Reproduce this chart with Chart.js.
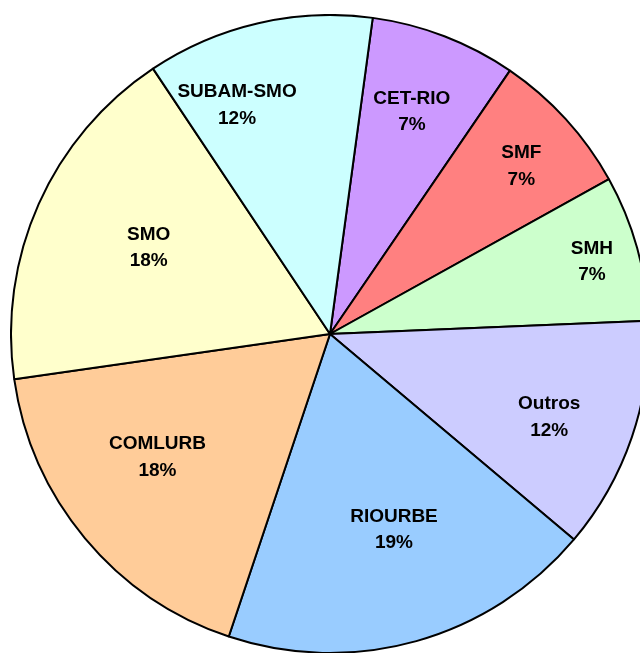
<!DOCTYPE html>
<html>
<head>
<meta charset="utf-8">
<script src="https://cdn.jsdelivr.net/npm/chart.js@4/dist/chart.umd.min.js"></script>
<style>
  html, body { margin: 0; padding: 0; background: #ffffff; overflow: hidden; width: 640px; height: 653px; }
  #wrap { position: absolute; left: 10px; top: 14px; width: 640px; height: 640px; }
</style>
</head>
<body>
<div id="wrap"><canvas id="c"></canvas></div>
<script>
// Data (clockwise, starting just right of 12 o'clock)
const categories = ["CET-RIO", "SMF", "SMH", "Outros", "RIOURBE", "COMLURB", "SMO", "SUBAM-SMO"];
const shares = [7.4, 7.4, 7.4, 11.8, 19.0, 17.6, 17.9, 11.5];
const sliceColors = ["#CC99FF", "#FF8080", "#CCFFCC", "#CCCCFF", "#99CCFF", "#FFCC99", "#FFFFCC", "#CCFFFF"];

// Label placement: radial fraction and angular offset (degrees) per slice
const labelRadius = [0.746, 0.80, 0.853, 0.734, 0.642, 0.662, 0.631, 0.778];
const labelAngleShift = [-0.9, 0.9, 0, 1.7, -2.5, 4.6, 1.7, -9.0];

const total = shares.reduce((a, b) => a + b, 0);

const sliceLabels = {
  id: 'sliceLabels',
  afterDatasetsDraw(chart) {
    const ctx = chart.ctx;
    const meta = chart.getDatasetMeta(0);
    ctx.save();
    ctx.fillStyle = '#000000';
    ctx.font = 'bold 19px "Liberation Sans", Arial, sans-serif';
    ctx.textAlign = 'center';
    ctx.textBaseline = 'middle';
    meta.data.forEach((arc, i) => {
      const p = arc.getProps(['x', 'y', 'startAngle', 'endAngle', 'outerRadius'], true);
      const mid = (p.startAngle + p.endAngle) / 2 + labelAngleShift[i] * Math.PI / 180;
      const r = p.outerRadius * labelRadius[i];
      const x = p.x + Math.cos(mid) * r;
      const y = p.y + Math.sin(mid) * r + 1;
      const pct = Math.round(shares[i] / total * 100) + '%';
      ctx.fillText(categories[i], x, y - 13);
      ctx.fillText(pct, x, y + 13.5);
    });
    ctx.restore();
  }
};

new Chart(document.getElementById('c'), {
  type: 'pie',
  data: {
    labels: categories,
    datasets: [{
      data: shares,
      backgroundColor: sliceColors,
      borderColor: '#000000',
      borderWidth: 2,
      borderAlign: 'center'
    }]
  },
  options: {
    responsive: true,
    maintainAspectRatio: false,
    animation: false,
    rotation: 7.7,
    layout: { padding: 0 },
    plugins: {
      legend: { display: false },
      tooltip: { enabled: false }
    }
  },
  plugins: [sliceLabels]
});
</script>
</body>
</html>
